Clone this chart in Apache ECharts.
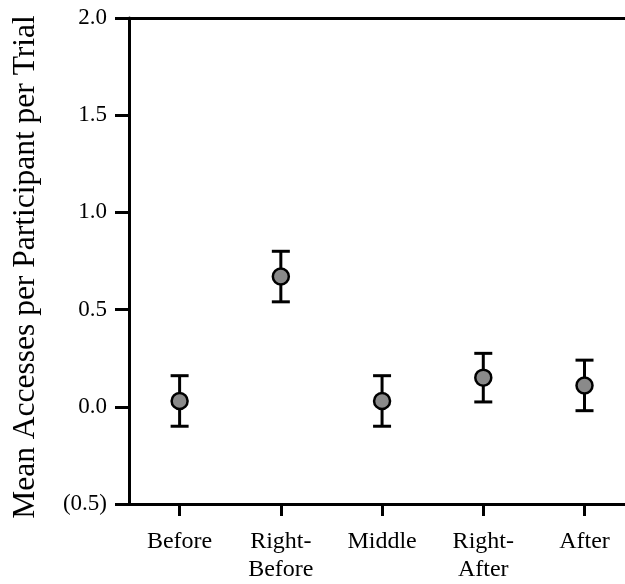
<!DOCTYPE html>
<html><head><meta charset="utf-8">
<script src="https://cdn.jsdelivr.net/npm/echarts@6/dist/echarts.min.js"></script>
<style>html,body{margin:0;padding:0;background:#fff}#c{width:625px;height:584px}</style>
</head><body><div id="c"></div>
<script>
const categories = ["Before", "Right-\nBefore", "Middle", "Right-\nAfter", "After"];
const means = [0.03, 0.67, 0.03, 0.15, 0.11];
const errors = [0.13, 0.13, 0.13, 0.125, 0.13];
const yTickLabels = {"-0.5": "(0.5)", "0": "0.0", "0.5": "0.5", "1": "1.0", "1.5": "1.5", "2": "2.0"};
const yTitle = "Mean Accesses per Participant per Trial";

const font = "'Liberation Serif', 'DejaVu Serif', serif";
const pts = means.map((m, i) => [i + 1, m]);
const errData = means.map((m, i) => [i + 1, m - errors[i], m + errors[i]]);

const chart = echarts.init(document.getElementById('c'));
chart.setOption({
  animation: false,
  backgroundColor: '#fff',
  grid: {left: 129, right: 0, top: 18, bottom: 77},
  xAxis: [{
    type: 'value', min: 0.5, max: 5.4, interval: 1,
    splitLine: {show: false},
    axisLine: {onZero: false, lineStyle: {color: '#000', width: 3}},
    axisTick: {length: 12, lineStyle: {color: '#000', width: 3}, customValues: [1,2,3,4,5]},
    axisLabel: {
      customValues: [1,2,3,4,5],
      formatter: v => categories[Math.round(v) - 1] || '',
      color: '#000', fontFamily: font, fontSize: 24, margin: 24, lineHeight: 28
    }
  }, {
    type: 'value', position: 'top', min: 0.5, max: 5.4,
    splitLine: {show: false},
    axisLine: {show: true, onZero: false, lineStyle: {color: '#000', width: 3}},
    axisTick: {show: false}, axisLabel: {show: false}
  }],
  yAxis: {
    type: 'value', min: -0.5, max: 2, interval: 0.5,
    splitLine: {show: false},
    axisLine: {show: true, onZero: false, lineStyle: {color: '#000', width: 3}},
    axisTick: {show: true, length: 14, lineStyle: {color: '#000', width: 3}},
    axisLabel: {
      formatter: v => yTickLabels[String(v)] || '',
      color: '#000', fontFamily: font, fontSize: 23, margin: 22
    }
  },
  graphic: [{
    type: 'text', x: 26, y: 267, rotation: Math.PI / 2,
    style: {text: yTitle, font: "31.5px " + font, fill: '#000', align: 'center', verticalAlign: 'middle'}
  }],
  series: [{
    type: 'custom',
    data: errData,
    renderItem: (params, api) => {
      const x = api.value(0);
      const lo = api.coord([x, api.value(1)]);
      const hi = api.coord([x, api.value(2)]);
      const hw = 9;
      const st = {stroke: '#000', lineWidth: 3};
      return {type: 'group', children: [
        {type: 'line', shape: {x1: lo[0], y1: lo[1], x2: hi[0], y2: hi[1]}, style: st},
        {type: 'line', shape: {x1: lo[0] - hw, y1: lo[1], x2: lo[0] + hw, y2: lo[1]}, style: st},
        {type: 'line', shape: {x1: hi[0] - hw, y1: hi[1], x2: hi[0] + hw, y2: hi[1]}, style: st}
      ]};
    },
    z: 2
  }, {
    type: 'scatter',
    data: pts,
    symbol: 'circle', symbolSize: 16,
    itemStyle: {color: '#8a8a8a', borderColor: '#000', borderWidth: 2.5, opacity: 1},
    z: 3
  }]
});
</script></body></html>
